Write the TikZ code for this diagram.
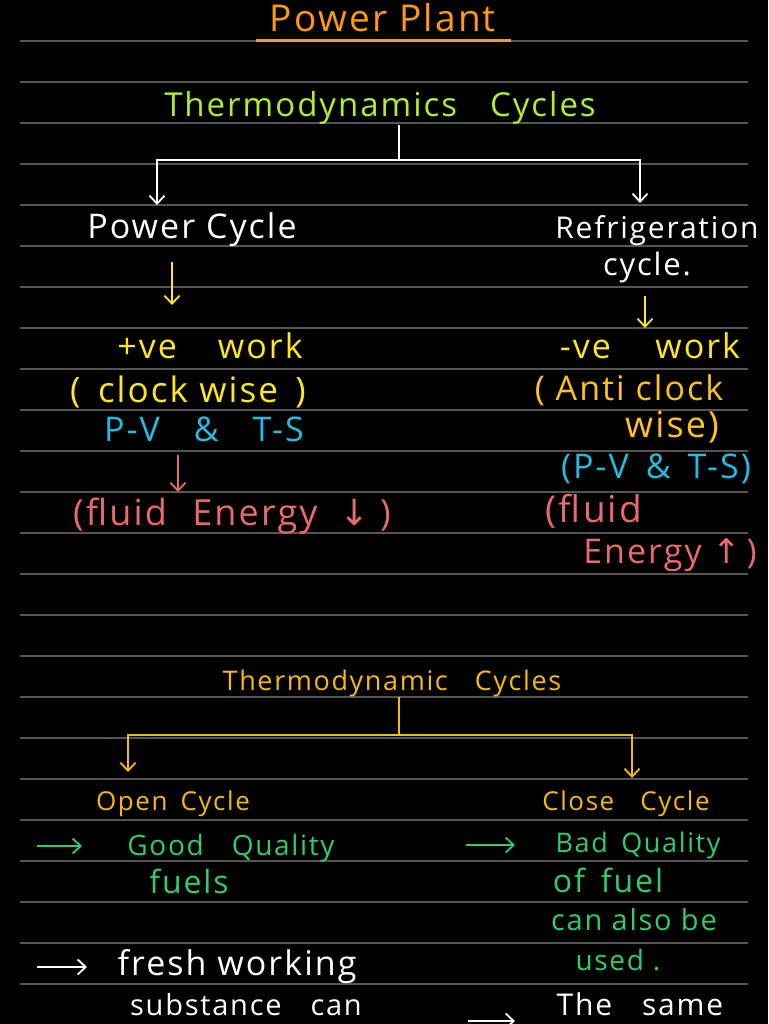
\documentclass[tikz,border=0pt]{standalone}
\usepackage{fontspec}
\setmainfont{Open Sans}[LetterSpace=6]
\newfontfamily\symfont{DejaVu Sans}
\usetikzlibrary{arrows.meta}
\definecolor{titleorange}{HTML}{FF9A0A}
\definecolor{limegreen}{HTML}{AEEF2A}
\definecolor{penyellow}{HTML}{FFE81A}
\definecolor{penamber}{HTML}{FFC21A}
\definecolor{pencyan}{HTML}{22BCE0}
\definecolor{penred}{HTML}{E86A6A}
\definecolor{pengold}{HTML}{F5BA0C}
\definecolor{pengreen}{HTML}{30CD6A}
\definecolor{rulegray}{HTML}{555555}
\newcommand{\fs}[1]{\fontsize{#1}{#1}\selectfont}

\begin{document}
\begin{tikzpicture}[x=1pt,y=-1pt,>={Straight Barb[length=8pt,width=15pt]},
  rule/.style={draw=rulegray,line width=1.4pt},
  ink/.style={anchor=base,inner sep=0pt,font=\fs{34}},
  pen/.style={line width=1.8pt}]
\fill[black] (0,0) rectangle (768,1024);
\useasboundingbox (0,0) rectangle (768,1024);
\foreach \k in {1,...,24} \draw[rule] (20,41*\k) -- (748,41*\k);
% top part
\node[ink,titleorange,font=\fs{37}] (title) at (383,32) {Power Plant};
\draw[titleorange,line width=3pt] (256,41) -- (511,41);
\node[ink,limegreen,font=\fs{33}] (td) at (380,117) {Thermodynamics\quad Cycles};
\node[ink,white] (pc) at (192,238) {Power Cycle};
\node[ink,white,font=\fs{30}] (rc) at (657,238) {Refrigeration};
\node[ink,white,font=\fs{31}] (rc2) at (647,275) {cycle.};
\coordinate (j1) at (399,160);
\coordinate (pcin) at (157,205);
\coordinate (rcin) at (640,203);
\draw[pen,white] (td.south -| j1) -- (j1);
\draw[pen,white,->] (j1) -| (pcin);
\draw[pen,white,->] (j1) -| (rcin);
% power cycle side
\node[ink,penyellow] (pw) at (210,358) {+ve\hspace{1.2em}work};
\node[ink,penyellow,font=\fs{35}] (cw) at (188,402) {(\hspace{0.5em}clock wise\hspace{0.5em})};
\node[ink,pencyan] (pv) at (204,441) {P-V\hspace{1em}\&\hspace{1em}T-S};
\node[ink,penred,font=\fs{36}] (fe) at (232,525) {(fluid\hspace{0.7em}Energy\hspace{0.6em}{\symfont ↓}\hspace{0.3em})};
\coordinate (pa1) at (172,262); \coordinate (pa2) at (172,305);
\draw[pen,penyellow,->] (pa1) -- (pa2);
\coordinate (fa1) at (178,455); \coordinate (fa2) at (178,492);
\draw[pen,penred,->] (fa1) -- (fa2);
% refrigeration side
\node[ink,penyellow] (nw) at (650,358) {-ve\hspace{1.3em}work};
\node[ink,penamber] (ac) at (629,400) {( Anti clock};
\node[ink,penamber,font=\fs{36}] (ac2) at (672,437) {wise)};
\node[ink,pencyan] (pv2) at (656,478) {(P-V\hspace{0.5em}\&\hspace{0.5em}T-S)};
\node[ink,penred,font=\fs{37}] (fr) at (594,522) {(fluid};
\node[ink,penred] (fr2) at (670,563) {Energy {\symfont ↑}\,)};
\coordinate (ra1) at (645,296); \coordinate (ra2) at (645,328);
\draw[pen,penyellow,->] (ra1) -- (ra2);
% bottom part
\node[ink,pengold,font=\fs{27}] (tc) at (392,690) {Thermodynamic\quad Cycles};
\coordinate (j2) at (399,735);
\coordinate (ocin) at (128,772);
\coordinate (ccin) at (632,778);
\draw[pen,pengold] (tc.south -| j2) -- (j2);
\draw[pen,pengold,->] (j2) -| (ocin);
\draw[pen,pengold,->] (j2) -| (ccin);
\node[ink,pengold,font=\fs{26}] (oc) at (173,810) {Open\enspace Cycle};
\node[ink,pengold,font=\fs{26}] (cc) at (626,810) {Close\quad Cycle};
\node[ink,pengreen,font=\fs{28}] (gq) at (231,855) {Good\quad Quality};
\node[ink,pengreen,font=\fs{32}] (fu) at (189,893) {fuels};
\node[ink,pengreen,font=\fs{27}] (bq) at (638,852) {Bad\enspace Quality};
\node[ink,pengreen,font=\fs{32}] (of) at (608,892) {of\enspace fuel};
\node[ink,pengreen,font=\fs{29}] (ca) at (634,930) {can also be};
\node[ink,pengreen,font=\fs{28}] (us) at (618,970) {used .};
\node[ink,white] (fw) at (237,975) {fresh working};
\node[ink,white,font=\fs{29}] (sc) at (246,1015) {substance\quad can};
\node[ink,white,font=\fs{30}] (ts) at (640,1015) {The\quad same};
\coordinate (g1) at (37,846); \coordinate (g2) at (82,846);
\draw[pen,pengreen,->] (g1) -- (g2);
\coordinate (g3) at (466,845); \coordinate (g4) at (515,845);
\draw[pen,pengreen,->] (g3) -- (g4);
\coordinate (w1) at (37,967); \coordinate (w2) at (87,967);
\draw[pen,white,->] (w1) -- (w2);
\coordinate (w3) at (468,1021); \coordinate (w4) at (515,1021);
\draw[pen,white,->] (w3) -- (w4);
\end{tikzpicture}
\end{document}
